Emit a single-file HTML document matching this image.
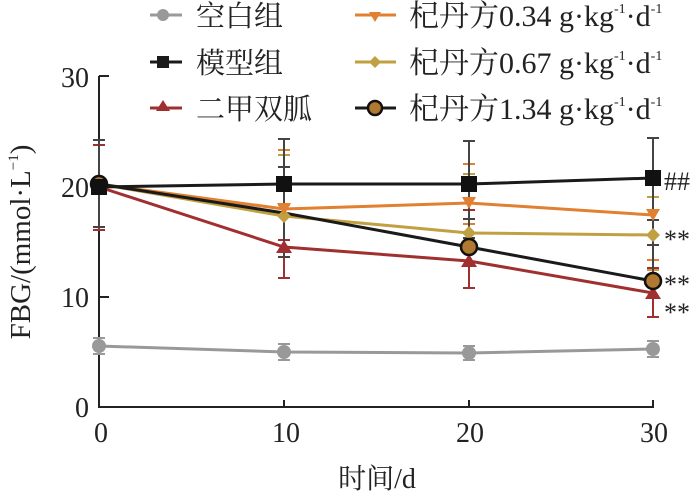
<!DOCTYPE html>
<html><head><meta charset="utf-8"><style>
body{margin:0;background:#fff}
svg text{font-family:"Liberation Serif","Noto Serif CJK SC",serif;fill:#222}
</style></head><body>
<svg width="700" height="493" viewBox="0 0 700 493" xmlns="http://www.w3.org/2000/svg">
<!-- axes -->
<g stroke="#222" stroke-width="2" fill="none">
<path d="M99,76 V407 H653 V400"/>
<path d="M99,76 H109 M99,187 H109 M99,297 H109"/>
<path d="M284,407 V400 M469,407 V400"/>
</g>
<g font-size="28" text-anchor="end">
<text x="89" y="87">30</text><text x="89" y="197">20</text><text x="89" y="307">10</text><text x="89" y="417">0</text>
</g>
<g font-size="28" text-anchor="middle">
<text x="101" y="442">0</text><text x="286" y="442">10</text><text x="470" y="442">20</text><text x="654" y="442">30</text>
<text x="377" y="488">时间/d</text>
</g>
<text font-size="29" text-anchor="middle" transform="translate(30,242) rotate(-90)">FBG/(mmol·L<tspan font-size="15" dy="-12">−1</tspan><tspan dy="12">)</tspan></text>

<!-- error bars -->
<g stroke-width="2" fill="none">
<g stroke="#999"><path d="M99,338V354M93,338H105M93,354H105 M284,344V360M278,344H290M278,360H290 M469,346V360M463,346H475M463,360H475 M653,341V357M647,341H659M647,357H659"/></g>
<g stroke="#e08030"><path d="M99,145V230M93,145H105M93,230H105 M284,150V205M278,150H290M278,205H290 M469,164V224M463,164H475M463,224H475 M653,197V260M647,197H659M647,260H659"/></g>
<g stroke="#c0a040"><path d="M284,155V240M278,155H290M278,240H290 M469,174V242M463,174H475M463,242H475 M653,197V270M647,197H659M647,270H659"/></g>
<g stroke="#a03030"><path d="M99,145V230M93,145H105M93,230H105 M284,240V278M278,240H290M278,278H290 M469,210V288M463,210H475M463,288H475 M653,268V317M647,268H659M647,317H659"/></g>
<g stroke="#444"><path d="M99,140V227M93,140H105M93,227H105 M284,139V257M278,139H290M278,257H290 M469,141V238M463,141H475M463,238H475 M653,138V245M647,138H659M647,245H659 M284,167V258M278,167H290 M469,219V250M463,219H475 M653,220V270M647,220H659"/></g>
</g>

<!-- lines -->
<g fill="none" stroke-width="3">
<polyline stroke="#999" points="99,346 284,352 469,353 653,349"/>
<polyline stroke="#c0a040" points="99,184 284,216 469,233 653,235"/>
<polyline stroke="#e08030" points="99,184 284,209 469,203 653,215"/>
<polyline stroke="#a03030" points="99,187 284,247 469,261 653,293"/>
<polyline stroke="#1a1a1a" points="99,184 284,213 469,247 653,281"/>
<polyline stroke="#1a1a1a" points="99,187 284,184 469,184 653,178"/>
</g>
<!-- markers -->
<g fill="#999"><circle cx="99" cy="346" r="7"/><circle cx="284" cy="352" r="7"/><circle cx="469" cy="353" r="7"/><circle cx="653" cy="349" r="7"/></g>
<g fill="#c0a040"><path d="M284,209l7,7-7,7-7-7z M469,226l7,7-7,7-7-7z M653,228l7,7-7,7-7-7z"/></g>
<g fill="#e08030"><path d="M277,203h14l-7,12z M462,197h14l-7,12z M646,209h14l-7,12z"/></g>
<g fill="#a03030"><path d="M284,240l8,13h-16z M469,254l8,13h-16z M653,286l8,13h-16z"/></g>
<g fill="#b07830" stroke="#111" stroke-width="2.5"><circle cx="99" cy="184" r="8"/><circle cx="469" cy="247" r="8"/><circle cx="653" cy="281" r="8"/></g>
<g fill="#111"><rect x="91" y="179" width="16" height="16"/><rect x="276" y="176" width="16" height="16"/><rect x="461" y="176" width="16" height="16"/><rect x="645" y="170" width="16" height="16"/></g>

<g font-size="26"><text x="664" y="190">##</text><text x="664" y="248">**</text><text x="664" y="293">**</text><text x="664" y="321">**</text></g>

<!-- legend -->
<g stroke-width="3">
<line x1="150" y1="15" x2="182" y2="15" stroke="#999"/><circle cx="163" cy="15" r="6" fill="#999"/>
<line x1="150" y1="62" x2="182" y2="62" stroke="#1a1a1a"/><rect x="157" y="56" width="12" height="12" fill="#1a1a1a"/>
<line x1="150" y1="108" x2="182" y2="108" stroke="#a03030"/><path d="M163,100l7,11h-14z" fill="#a03030"/>
<line x1="355" y1="15" x2="396" y2="15" stroke="#e08030"/><path d="M369,12h12l-6,10z" fill="#e08030"/>
<line x1="355" y1="62" x2="396" y2="62" stroke="#c0a040"/><path d="M375,56l6,6-6,6-6-6z" fill="#c0a040"/>
<line x1="355" y1="108" x2="396" y2="108" stroke="#1a1a1a"/><circle cx="375" cy="108" r="7" fill="#b07830" stroke="#111" stroke-width="2.5"/>
</g>
<g font-size="29">
<text x="196" y="26">空白组</text><text x="196" y="73">模型组</text><text x="196" y="119">二甲双胍</text>
</g>
<g font-size="30">
<text x="409" y="26">杞丹方0.34 g·kg<tspan font-size="14" dy="-13">-1</tspan><tspan dy="13">·d</tspan><tspan font-size="14" dy="-13">-1</tspan></text>
<text x="409" y="73">杞丹方0.67 g·kg<tspan font-size="14" dy="-13">-1</tspan><tspan dy="13">·d</tspan><tspan font-size="14" dy="-13">-1</tspan></text>
<text x="409" y="119">杞丹方1.34 g·kg<tspan font-size="14" dy="-13">-1</tspan><tspan dy="13">·d</tspan><tspan font-size="14" dy="-13">-1</tspan></text>
</g>
</svg>
</body></html>
